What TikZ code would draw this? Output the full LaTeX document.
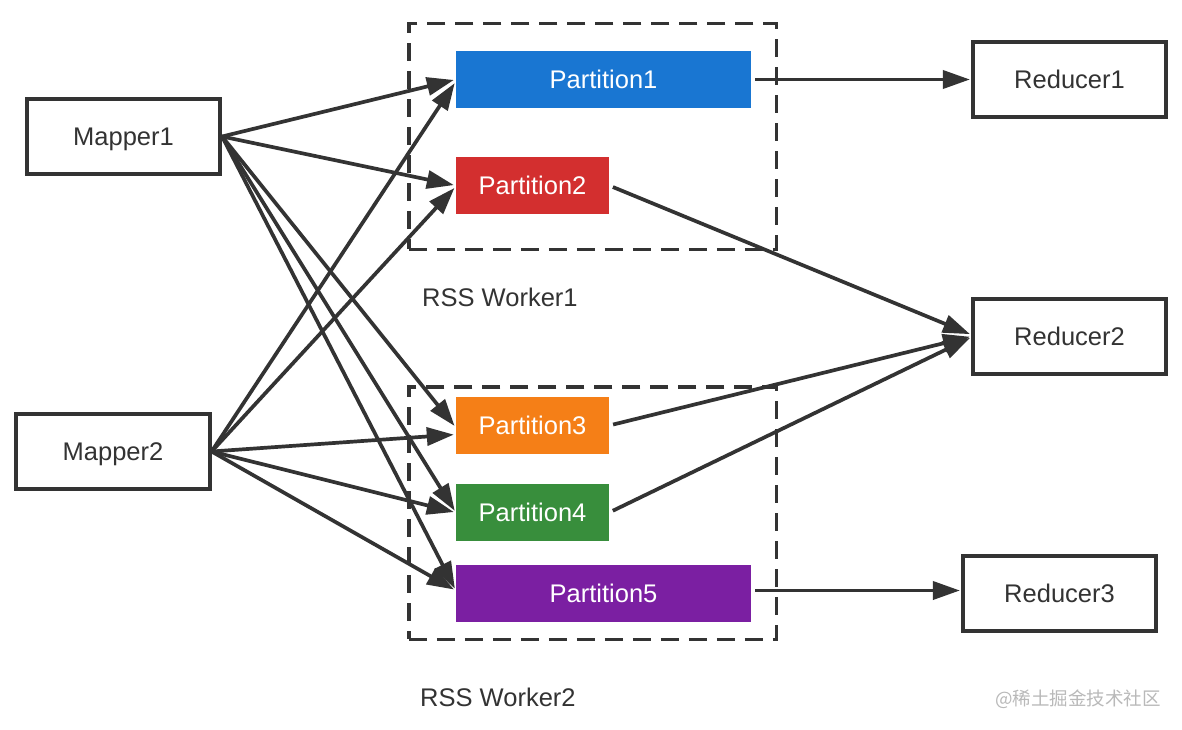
\documentclass[tikz,border=0pt]{standalone}
\usepackage{fontspec}
\setmainfont{Liberation Sans}
\newfontfamily\cjk{Noto Sans CJK SC}
\usetikzlibrary{arrows.meta}
\definecolor{linec}{RGB}{51,51,51}
\definecolor{blueP}{RGB}{25,118,210}
\definecolor{redP}{RGB}{211,47,47}
\definecolor{orangeP}{RGB}{245,127,23}
\definecolor{greenP}{RGB}{56,142,60}
\definecolor{purpleP}{RGB}{123,31,162}
\definecolor{wmark}{RGB}{185,185,185}
\tikzset{
  lbl/.style={font=\fontsize{25.5}{30}\selectfont, text height=18.2pt, text depth=0pt},
  plainbox/.style={lbl, draw=linec, line width=3.7pt, minimum width=193.5pt, minimum height=75.5pt, inner sep=0pt, text=linec},
  part/.style={lbl, minimum height=57pt, inner sep=0pt, text=white},
  partwide/.style={part, minimum width=295pt},
  partnarrow/.style={part, minimum width=153pt},
  worker/.style={draw=linec, line width=3.5pt, dash pattern=on 18pt off 10pt, minimum width=367.5pt, inner sep=0pt},
  arr/.style={draw=linec, line width=3.7pt, -{Triangle[length=27pt,width=18pt]}, shorten >=2pt},
  arrR/.style={arr, shorten <=4pt, shorten >=1pt},
}
\begin{document}
\begin{tikzpicture}[x=1pt,y=-1pt]
\useasboundingbox[fill=white] (0,0) rectangle (1182,730);

% worker boxes
\node[worker, minimum height=225.5pt] (w1) at (592.5,136.5) {};
\node[worker, minimum height=252.5pt] (w2) at (592.5,513) {};

% mappers
\node[plainbox] (m1) at (123.5,136.5) {Mapper1};
\node[plainbox] (m2) at (113,451.5) {Mapper2};

% partitions
\node[partwide, fill=blueP] (p1) at (603.5,79.5) {Partition1};
\node[partnarrow, fill=redP] (p2) at (532.5,185.5) {Partition2};
\node[partnarrow, fill=orangeP] (p3) at (532.5,425.5) {Partition3};
\node[partnarrow, fill=greenP] (p4) at (532.5,512.5) {Partition4};
\node[partwide, fill=purpleP] (p5) at (603.5,593.5) {Partition5};

% reducers
\node[plainbox] (r1) at (1069.5,79.5) {Reducer1};
\node[plainbox] (r2) at (1069.5,336.5) {Reducer2};
\node[plainbox] (r3) at (1059.5,593.5) {Reducer3};

% labels
\node[lbl, text=linec, anchor=west, inner sep=0pt] (l1) at (422,297) {RSS Worker1};
\node[lbl, text=linec, anchor=west, inner sep=0pt] (l2) at (420,697) {RSS Worker2};
\node[font=\cjk\fontsize{18.5}{22}\selectfont, text=wmark, anchor=east, inner sep=0pt] (wm) at (1161,699) {@稀土掘金技术社区};

% mapper arrows
\draw[arr] (m1.east) -- (p1.west);
\draw[arr] (m1.east) -- (p2.west);
\draw[arr] (m1.east) -- ([yshift=-2pt]p3.west);
\draw[arr] (m1.east) -- (p4.west);
\draw[arr] (m1.east) -- ([yshift=3pt]p5.west);
\draw[arr] (m2.east) -- ([yshift=-2pt]p1.west);
\draw[arr] (m2.east) -- ([yshift=-1pt]p2.west);
\draw[arr] (m2.east) -- ([yshift=-9pt]p3.west);
\draw[arr] (m2.east) -- (p4.west);
\draw[arr] (m2.east) -- ([yshift=3pt]p5.west);

% reducer arrows
\draw[arrR] (p1.east) -- (r1.west);
\draw[arrR] (p2.east) -- ([yshift=2pt]r2.west);
\draw[arrR] (p3.east) -- (r2.west);
\draw[arrR] (p4.east) -- ([yshift=-1pt]r2.west);
\draw[arrR] ([yshift=3pt]p5.east) -- ([yshift=3pt]r3.west);
\end{tikzpicture}
\end{document}
